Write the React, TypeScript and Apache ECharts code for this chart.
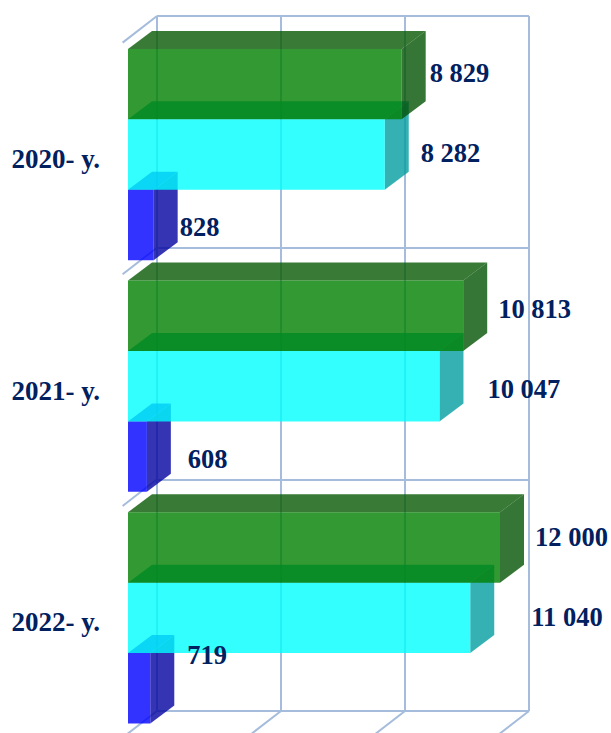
import React, { useEffect, useRef } from "react";
import * as echarts from "echarts";

const categories = ["2020- y.", "2021- y.", "2022- y."];
const greenValues = [8829, 10813, 12000];
const cyanValues = [8282, 10047, 11040];
const blueValues = [828, 608, 719];
const wallTicks = [0, 4000, 8000, 12000];

// Hand-placed label nudges (pixels): [right of the bar's back edge, from the bar's middle]
const greenLabelNudge = [[4, -11.5], [11, -6.5], [11, -10.5]];
const cyanLabelNudge = [[12, -1.5], [24, 2.5], [37, -1]];
const blueLabelNudge = [[2, 2], [17, 2], [13, -33]];

const LINE = "#a5bcdc";
const NAVY = "#002060";
const FONT_FAMILY = '"Liberation Serif", "Times New Roman", serif';
const FLOOR_DX = -29;
const FLOOR_DY = 22.3;
const BAR_DX = 24;
const BAR_DY = -18;
const BAR_SHARE = 0.304;
const STUB_DX = -34.4;
const STUB_DY = 26.6;

const fmt = (v: number) => String(v).replace(/\B(?=(\d{3})+$)/g, " ");

function barSeries(
  name: string,
  values: number[],
  slot: number,
  colors: { front: string; top: string; side: string },
  nudges: number[][]
) {
  return {
    type: "custom",
    name,
    silent: true,
    data: values.map((v, i) => [v, i]),
    encode: { x: 0, y: 1 },
    renderItem: (params: any, api: any) => {
      const value = api.value(0);
      const idx = api.value(1);
      const center = api.coord([0, idx]);
      const end = api.coord([value, idx]);
      const band = api.size([0, 1])[1];
      const h = band * BAR_SHARE;
      const y0 = center[1] + FLOOR_DY + (slot - 1.5) * h + 0.4;
      const y1 = y0 + h;
      const x0 = center[0] + FLOOR_DX;
      const x1 = end[0] + FLOOR_DX;
      const n = nudges[params.dataIndex];
      return {
        type: "group",
        children: [
          {
            type: "polygon",
            shape: { points: [[x0, y0], [x0 + BAR_DX, y0 + BAR_DY], [x1 + BAR_DX, y0 + BAR_DY], [x1, y0]] },
            style: { fill: colors.top },
          },
          {
            type: "polygon",
            shape: { points: [[x1, y0], [x1 + BAR_DX, y0 + BAR_DY], [x1 + BAR_DX, y1 + BAR_DY], [x1, y1]] },
            style: { fill: colors.side },
          },
          {
            type: "rect",
            shape: { x: x0, y: y0, width: x1 - x0, height: h },
            style: { fill: colors.front },
          },
          {
            type: "text",
            z2: 100,
            style: {
              text: fmt(value),
              x: x1 + BAR_DX + n[0],
              y: (y0 + y1) / 2 + n[1],
              fill: NAVY,
              font: `bold 26.5px ${FONT_FAMILY}`,
              textAlign: "left",
              textVerticalAlign: "middle",
              align: "left",
              verticalAlign: "middle",
            },
          },
        ],
      };
    },
  };
}

const stubStyle = { stroke: LINE, lineWidth: 2 };

export default function App() {
  const ref = useRef<HTMLDivElement>(null);
  useEffect(() => {
    const chart = echarts.init(ref.current!, undefined, { renderer: "svg" });
    chart.setOption({
      animation: false,
      backgroundColor: "#ffffff",
      grid: { left: 157, top: 16, width: 372, height: 695, containLabel: false },
      xAxis: {
        type: "value",
        min: 0,
        max: 12000,
        interval: 4000,
        axisLabel: { show: false },
        axisLine: { show: false },
        axisTick: { show: false },
        splitLine: { show: true, lineStyle: { color: LINE, width: 2 } },
      },
      yAxis: {
        type: "category",
        inverse: true,
        data: categories,
        axisLine: { show: false },
        axisTick: { show: false },
        splitLine: { show: true, lineStyle: { color: LINE, width: 2 } },
        axisLabel: {
          margin: 57,
          color: NAVY,
          fontFamily: FONT_FAMILY,
          fontWeight: "bold",
          fontSize: 27,
          verticalAlign: "top",
          lineHeight: 54,
        },
      },
      series: [
        {
          type: "custom",
          name: "left stubs",
          silent: true,
          data: categories.map((_, i) => [0, i]),
          encode: { x: 0, y: 1 },
          renderItem: (_p: any, api: any) => {
            const c = api.coord([api.value(0), api.value(1)]);
            const top = c[1] - api.size([0, 1])[1] / 2;
            return {
              type: "line",
              shape: { x1: c[0], y1: top, x2: c[0] + STUB_DX, y2: top + STUB_DY },
              style: stubStyle,
            };
          },
        },
        {
          type: "custom",
          name: "floor stubs",
          silent: true,
          data: wallTicks.map((v) => [v, categories.length - 1]),
          encode: { x: 0, y: 1 },
          renderItem: (_p: any, api: any) => {
            const c = api.coord([api.value(0), api.value(1)]);
            const bottom = c[1] + api.size([0, 1])[1] / 2;
            return {
              type: "line",
              shape: { x1: c[0], y1: bottom, x2: c[0] + STUB_DX, y2: bottom + STUB_DY },
              style: stubStyle,
            };
          },
        },
        barSeries(
          "blue",
          blueValues,
          2,
          { front: "rgba(0,0,255,0.8)", top: "rgba(0,0,190,0.8)", side: "rgba(2,2,161,0.8)" },
          blueLabelNudge
        ),
        barSeries(
          "cyan",
          cyanValues,
          1,
          { front: "rgba(0,255,255,0.8)", top: "rgba(0,180,180,0.8)", side: "rgba(2,157,161,0.8)" },
          cyanLabelNudge
        ),
        barSeries(
          "green",
          greenValues,
          0,
          { front: "rgba(0,128,0,0.8)", top: "rgba(8,90,4,0.8)", side: "rgba(3,82,2,0.8)" },
          greenLabelNudge
        ),
      ],
    });
    return () => chart.dispose();
  }, []);
  return <div ref={ref} style={{ position: "absolute", left: 0, top: 0, width: 611, height: 733 }} />;
}
